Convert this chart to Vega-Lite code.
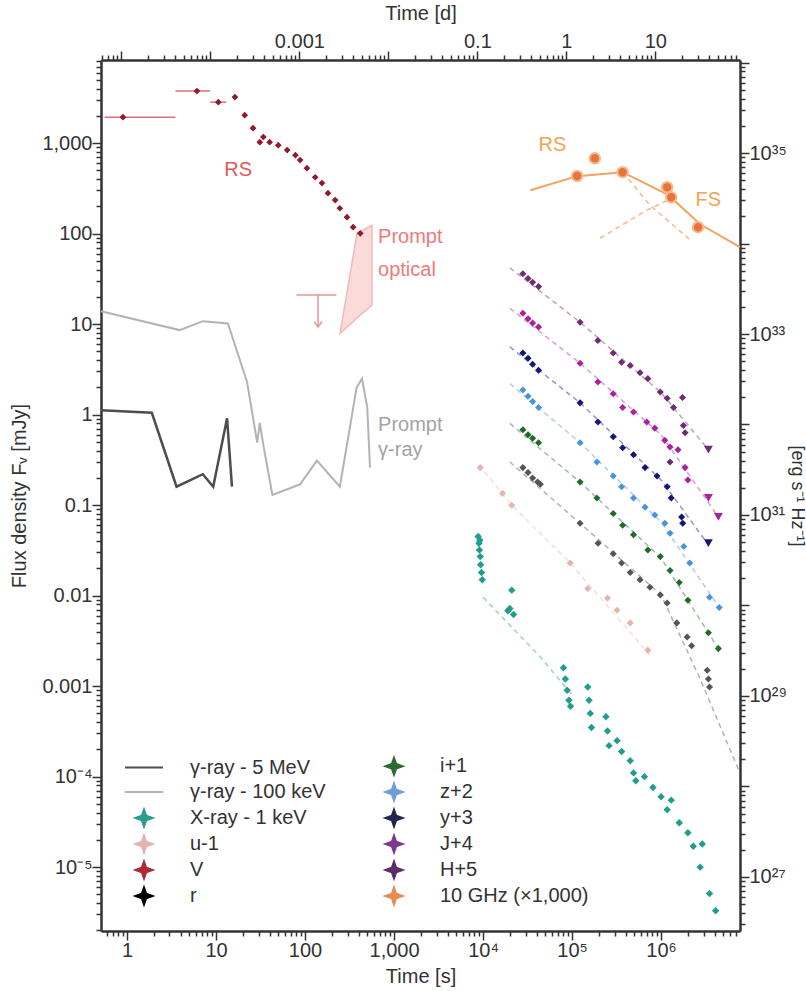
{
  "$schema": "https://vega.github.io/schema/vega-lite/v6.json",
  "width": 639,
  "height": 871,
  "autosize": {"type": "none"},
  "padding": {"left": 101, "top": 60, "right": 66, "bottom": 60},
  "background": "white",
  "config": {
    "font": "Liberation Sans",
    "view": {"stroke": null},
    "axis": {
      "labelFont": "Liberation Sans", "labelFontSize": 20, "labelColor": "#333",
      "titleFont": "Liberation Sans", "titleFontSize": 20, "titleFontWeight": "normal", "titleColor": "#333",
      "domainColor": "#333", "domainWidth": 2.5, "tickColor": "#333", "tickWidth": 1.5, "ticks": true,
      "grid": false, "labelOverlap": false, "labelBound": false, "labelFlush": false
    }
  },
  "datasets": {
    "gamma5": [{"t":0.51,"F":1.12},{"t":1.9,"F":1.05},{"t":3.6,"F":0.16},{"t":7.1,"F":0.22},{"t":9.3,"F":0.16},{"t":13.3,"F":0.91},{"t":15.1,"F":0.16}],
    "gamma100": [{"t":0.51,"F":13.9},{"t":3.9,"F":8.6},{"t":7.1,"F":10.8},{"t":13.6,"F":10.2},{"t":22.3,"F":2.3},{"t":29,"F":0.49},{"t":31,"F":0.81},{"t":34,"F":0.46},{"t":43,"F":0.13},{"t":88,"F":0.17},{"t":136,"F":0.31},{"t":246,"F":0.16},{"t":380,"F":2.0},{"t":436,"F":2.5},{"t":500,"F":1.2},{"t":537,"F":0.26}],
    "optband": [{"t":247,"lo":7.9,"hi":7.9},{"t":304,"lo":9.5,"hi":26},{"t":383,"lo":11.7,"hi":101},{"t":565,"lo":16.2,"hi":124}],
    "optul": [{"t":140,"tlo":80,"thi":225,"F":21,"Flo":9.3}],
    "vband": [{"t":0.9,"F":1940,"tlo":0.56,"thi":3.5},{"t":6.1,"F":3760,"tlo":3.5,"thi":8.6},{"t":10.6,"F":2840,"tlo":8.6,"thi":13},{"t":16.3,"F":3230},{"t":21,"F":2040},{"t":26,"F":1465},{"t":31,"F":1025},{"t":34,"F":1170},{"t":40,"F":1025},{"t":50,"F":950},{"t":63,"F":840},{"t":78,"F":737},{"t":88,"F":650},{"t":105,"F":530},{"t":130,"F":420},{"t":155,"F":362},{"t":181,"F":280},{"t":218,"F":235},{"t":246,"F":191},{"t":296,"F":152},{"t":347,"F":118},{"t":417,"F":101}],
    "radio": [{"t":114000,"F":434},{"t":180000,"F":680},{"t":370000,"F":478},{"t":1170000,"F":326},{"t":1300000,"F":252},{"t":2600000,"F":118}],
    "radiomodel": [
      {"c":"tot","t":34000,"F":302},{"c":"tot","t":114000,"F":432},{"c":"tot","t":370000,"F":478},{"c":"tot","t":1200000,"F":268},{"c":"tot","t":2750000,"F":127},{"c":"tot","t":7700000,"F":71},
      {"c":"fs","t":206000,"F":89},{"c":"fs","t":690000,"F":182},{"c":"fs","t":1200000,"F":234},
      {"c":"rs","t":370000,"F":478},{"c":"rs","t":750000,"F":206},{"c":"rs","t":2100000,"F":86}
    ],
    "xray": [{"t":8800,"F":0.045},{"t":9000,"F":0.038},{"t":9100,"F":0.032},{"t":9300,"F":0.027},{"t":9400,"F":0.022},{"t":9600,"F":0.018},{"t":9800,"F":0.015},{"t":9200,"F":0.041},
      {"t":19000,"F":0.0068},{"t":20000,"F":0.0072},{"t":21000,"F":0.0115},{"t":22000,"F":0.0062},
      {"t":80000,"F":0.0016},{"t":84000,"F":0.0012},{"t":88000,"F":0.0009},{"t":92000,"F":0.0007},{"t":96000,"F":0.0006},
      {"t":150000,"F":0.00098},{"t":155000,"F":0.0007},{"t":160000,"F":0.0005},{"t":165000,"F":0.00035},
      {"t":240000,"F":0.00046},{"t":250000,"F":0.00032},{"t":260000,"F":0.00022},{"t":320000,"F":0.00025},{"t":360000,"F":0.00019},
      {"t":450000,"F":0.00015},{"t":490000,"F":0.00011},{"t":520000,"F":0.00009},
      {"t":650000,"F":0.0001},{"t":810000,"F":0.000076},{"t":1000000,"F":0.00006},{"t":1170000,"F":0.000043},{"t":1300000,"F":0.000055},{"t":1600000,"F":0.000031},{"t":2000000,"F":0.000024},{"t":2300000,"F":0.000017},{"t":2900000,"F":0.000018},{"t":2750000,"F":0.00001},{"t":3500000,"F":0.0000051},{"t":4100000,"F":0.0000033}],
    "multi": [
      {"b":"u","t":9300,"F":0.26},{"b":"u","t":16500,"F":0.135},{"b":"u","t":21000,"F":0.1},{"b":"u","t":95000,"F":0.023},{"b":"u","t":150000,"F":0.012},{"b":"u","t":250000,"F":0.0094},{"b":"u","t":320000,"F":0.0069},{"b":"u","t":450000,"F":0.005},{"b":"u","t":710000,"F":0.0025},
      {"b":"r","t":28000,"F":0.26},{"b":"r","t":32000,"F":0.23},{"b":"r","t":36000,"F":0.2},{"b":"r","t":41000,"F":0.18},{"b":"r","t":44000,"F":0.17},{"b":"r","t":123000,"F":0.063},{"b":"r","t":196000,"F":0.038},{"b":"r","t":290000,"F":0.029},{"b":"r","t":360000,"F":0.023},{"b":"r","t":450000,"F":0.018},{"b":"r","t":580000,"F":0.015},{"b":"r","t":750000,"F":0.0124},{"b":"r","t":980000,"F":0.0102},{"b":"r","t":1170000,"F":0.0083},{"b":"r","t":1500000,"F":0.005},{"b":"r","t":1960000,"F":0.0035},{"b":"r","t":2200000,"F":0.0028},{"b":"r","t":3300000,"F":0.0015},{"b":"r","t":3400000,"F":0.0012},{"b":"r","t":3500000,"F":0.00098},
      {"b":"i","t":28000,"F":0.68},{"b":"i","t":32000,"F":0.6},{"b":"i","t":36000,"F":0.55},{"b":"i","t":42000,"F":0.49},{"b":"i","t":123000,"F":0.18},{"b":"i","t":190000,"F":0.12},{"b":"i","t":290000,"F":0.081},{"b":"i","t":370000,"F":0.06},{"b":"i","t":490000,"F":0.047},{"b":"i","t":710000,"F":0.032},{"b":"i","t":980000,"F":0.027},{"b":"i","t":1260000,"F":0.019},{"b":"i","t":1600000,"F":0.014},{"b":"i","t":2000000,"F":0.0089},{"b":"i","t":3400000,"F":0.0039},{"b":"i","t":4400000,"F":0.0026},
      {"b":"z","t":28000,"F":1.87},{"b":"z","t":32000,"F":1.6},{"b":"z","t":36000,"F":1.4},{"b":"z","t":42000,"F":1.2},{"b":"z","t":123000,"F":0.49},{"b":"z","t":190000,"F":0.3},{"b":"z","t":290000,"F":0.21},{"b":"z","t":360000,"F":0.16},{"b":"z","t":490000,"F":0.12},{"b":"z","t":660000,"F":0.095},{"b":"z","t":850000,"F":0.078},{"b":"z","t":1100000,"F":0.063},{"b":"z","t":1260000,"F":0.049},{"b":"z","t":1800000,"F":0.035},{"b":"z","t":2100000,"F":0.023},{"b":"z","t":3500000,"F":0.0096},{"b":"z","t":4500000,"F":0.0074},
      {"b":"y","t":28000,"F":4.8},{"b":"y","t":32000,"F":4.2},{"b":"y","t":36000,"F":3.6},{"b":"y","t":42000,"F":3.1},{"b":"y","t":123000,"F":1.35},{"b":"y","t":195000,"F":0.83},{"b":"y","t":290000,"F":0.57},{"b":"y","t":370000,"F":0.43},{"b":"y","t":490000,"F":0.36},{"b":"y","t":660000,"F":0.26},{"b":"y","t":900000,"F":0.21},{"b":"y","t":1170000,"F":0.16},{"b":"y","t":1300000,"F":0.12},{"b":"y","t":1700000,"F":0.074},{"b":"y","t":1750000,"F":0.063},
      {"b":"J","t":28000,"F":13.2},{"b":"J","t":32000,"F":11.5},{"b":"J","t":36000,"F":10.3},{"b":"J","t":42000,"F":9.3},{"b":"J","t":123000,"F":3.7},{"b":"J","t":195000,"F":2.3},{"b":"J","t":290000,"F":1.7},{"b":"J","t":370000,"F":1.2},{"b":"J","t":490000,"F":1.07},{"b":"J","t":690000,"F":0.83},{"b":"J","t":850000,"F":0.71},{"b":"J","t":1100000,"F":0.52},{"b":"J","t":1260000,"F":0.44},{"b":"J","t":1550000,"F":0.41},{"b":"J","t":1860000,"F":0.26},{"b":"J","t":2000000,"F":0.19},
      {"b":"H","t":28000,"F":36},{"b":"H","t":32000,"F":32},{"b":"H","t":36000,"F":29},{"b":"H","t":42000,"F":26},{"b":"H","t":123000,"F":10.5},{"b":"H","t":195000,"F":6.6},{"b":"H","t":290000,"F":4.8},{"b":"H","t":360000,"F":3.8},{"b":"H","t":450000,"F":3.5},{"b":"H","t":580000,"F":2.9},{"b":"H","t":710000,"F":2.5},{"b":"H","t":980000,"F":1.78},{"b":"H","t":1170000,"F":1.52},{"b":"H","t":1380000,"F":1.2},{"b":"H","t":1740000,"F":1.55},{"b":"H","t":1780000,"F":0.76},{"b":"H","t":1860000,"F":0.63},{"b":"H","t":1260000,"F":0.3}
    ],
    "limits": [{"b":"y","t":3400000,"F":0.038},{"b":"J","t":3400000,"F":0.12},{"b":"J","t":4400000,"F":0.074},{"b":"H","t":3400000,"F":0.41}],
    "models": [
      {"b":"X","t":10000,"F":0.0096},{"b":"X","t":44000,"F":0.0021},{"b":"X","t":100000,"F":0.0008},
      {"b":"u","t":9000,"F":0.28},{"b":"u","t":21000,"F":0.1},{"b":"u","t":95000,"F":0.023},{"b":"u","t":750000,"F":0.0022},
      {"b":"r","t":20000,"F":0.3},{"b":"r","t":123000,"F":0.063},{"b":"r","t":1000000,"F":0.0102},{"b":"r","t":2750000,"F":0.0012},{"b":"r","t":7400000,"F":0.00012},
      {"b":"i","t":20000,"F":0.8},{"b":"i","t":123000,"F":0.18},{"b":"i","t":1000000,"F":0.026},{"b":"i","t":4400000,"F":0.0026},
      {"b":"z","t":20000,"F":2.2},{"b":"z","t":123000,"F":0.49},{"b":"z","t":1000000,"F":0.065},{"b":"z","t":4500000,"F":0.0074},
      {"b":"y","t":20000,"F":5.6},{"b":"y","t":123000,"F":1.35},{"b":"y","t":1000000,"F":0.19},{"b":"y","t":3300000,"F":0.038},
      {"b":"J","t":20000,"F":15},{"b":"J","t":123000,"F":3.7},{"b":"J","t":1000000,"F":0.6},{"b":"J","t":4400000,"F":0.074},
      {"b":"H","t":20000,"F":42},{"b":"H","t":123000,"F":10.5},{"b":"H","t":1000000,"F":1.75},{"b":"H","t":3400000,"F":0.41}
    ],
    "legend": [{"series":"γ-ray - 5 MeV"},{"series":"γ-ray - 100 keV"},{"series":"X-ray - 1 keV"},{"series":"u-1"},{"series":"V"},{"series":"r"},{"series":"i+1"},{"series":"z+2"},{"series":"y+3"},{"series":"J+4"},{"series":"H+5"},{"series":"10 GHz (×1,000)"}]
  },
  "layer": [
    {
      "layer": [
        {
          "data": {"name": "gamma100"},
          "mark": {"type": "line", "color": "#b3b3b3", "strokeWidth": 2},
          "encoding": {
            "x": {"field": "t", "type": "quantitative", "scale": {"type": "log", "domain": [0.51, 7700000], "nice": false},
              "axis": {"orient": "bottom", "title": "Time  [s]", "titlePadding": 6,
                "values": [0.6,0.7,0.8,0.9,1,2,3,4,5,6,7,8,9,10,20,30,40,50,60,70,80,90,100,200,300,400,500,600,700,800,900,1000,2000,3000,4000,5000,6000,7000,8000,9000,10000,20000,30000,40000,50000,60000,70000,80000,90000,100000,200000,300000,400000,500000,600000,700000,800000,900000,1000000,2000000,3000000,4000000,5000000,6000000,7000000],
                "labelExpr": "abs(log(datum.value)/LN10-round(log(datum.value)/LN10))>0.001 ? '' : datum.value<5000 ? format(datum.value, ',') : datum.value<50000 ? '10⁴' : datum.value<500000 ? '10⁵' : '10⁶'",
                "tickSize": {"condition": {"test": "abs(log(datum.value)/LN10-round(log(datum.value)/LN10))<0.001", "value": 9}, "value": 5},
                "labelPadding": 0}},
            "y": {"field": "F", "type": "quantitative", "scale": {"type": "log", "domain": [0.00000197, 8300], "nice": false},
              "axis": {"orient": "left", "title": "Flux density Fᵥ [mJy]", "titlePadding": 12,
                "values": [0.000002,0.000003,0.000004,0.000005,0.000006,0.000007,0.000008,0.000009,0.00001,0.00002,0.00003,0.00004,0.00005,0.00006,0.00007,0.00008,0.00009,0.0001,0.0002,0.0003,0.0004,0.0005,0.0006,0.0007,0.0008,0.0009,0.001,0.002,0.003,0.004,0.005,0.006,0.007,0.008,0.009,0.01,0.02,0.03,0.04,0.05,0.06,0.07,0.08,0.09,0.1,0.2,0.3,0.4,0.5,0.6,0.7,0.8,0.9,1,2,3,4,5,6,7,8,9,10,20,30,40,50,60,70,80,90,100,200,300,400,500,600,700,800,900,1000,2000,3000,4000,5000,6000,7000,8000],
                "labelExpr": "abs(log(datum.value)/LN10-round(log(datum.value)/LN10))>0.001 ? '' : datum.value>=0.001 ? format(datum.value, ',') : datum.value>0.00005 ? '10⁻⁴' : '10⁻⁵'",
                "tickSize": {"condition": {"test": "abs(log(datum.value)/LN10-round(log(datum.value)/LN10))<0.001", "value": 9}, "value": 5},
                "labelPadding": 0}}
          }
        },
        {
          "data": {"name": "gamma5"},
          "mark": {"type": "line", "color": "#4d4d4d", "strokeWidth": 2.5},
          "encoding": {
            "x": {"field": "t", "type": "quantitative", "scale": {"type": "log", "domain": [0.51, 7700000], "nice": false}},
            "y": {"field": "F", "type": "quantitative", "scale": {"type": "log", "domain": [0.00000197, 8300], "nice": false}}
          }
        },
        {
          "data": {"name": "optband"},
          "mark": {"type": "area", "color": "#f9b6b6", "opacity": 0.5, "stroke": "#e87474", "strokeWidth": 1.5},
          "encoding": {
            "x": {"field": "t", "type": "quantitative", "scale": {"type": "log", "domain": [0.51, 7700000], "nice": false}},
            "y": {"field": "lo", "type": "quantitative", "scale": {"type": "log", "domain": [0.00000197, 8300], "nice": false}},
            "y2": {"field": "hi"}
          }
        },
        {
          "data": {"name": "optul"},
          "mark": {"type": "rule", "color": "#e89494", "strokeWidth": 1.5},
          "encoding": {
            "x": {"field": "tlo", "type": "quantitative", "scale": {"type": "log", "domain": [0.51, 7700000], "nice": false}},
            "x2": {"field": "thi"},
            "y": {"field": "F", "type": "quantitative", "scale": {"type": "log", "domain": [0.00000197, 8300], "nice": false}}
          }
        },
        {
          "data": {"name": "optul"},
          "mark": {"type": "rule", "color": "#e89494", "strokeWidth": 1.5},
          "encoding": {
            "x": {"field": "t", "type": "quantitative", "scale": {"type": "log", "domain": [0.51, 7700000], "nice": false}},
            "y": {"field": "F", "type": "quantitative", "scale": {"type": "log", "domain": [0.00000197, 8300], "nice": false}},
            "y2": {"field": "Flo"}
          }
        },
        {
          "data": {"name": "optul"},
          "mark": {"type": "point", "shape": "M-1,-1.4L0,0L1,-1.4", "filled": false, "size": 60, "color": "#e89494", "strokeWidth": 1.5, "opacity": 1},
          "encoding": {
            "x": {"field": "t", "type": "quantitative", "scale": {"type": "log", "domain": [0.51, 7700000], "nice": false}},
            "y": {"field": "Flo", "type": "quantitative", "scale": {"type": "log", "domain": [0.00000197, 8300], "nice": false}}
          }
        },
        {
          "data": {"name": "vband"},
          "mark": {"type": "rule", "color": "#d9707a", "strokeWidth": 1.5},
          "encoding": {
            "x": {"field": "tlo", "type": "quantitative", "scale": {"type": "log", "domain": [0.51, 7700000], "nice": false}},
            "x2": {"field": "thi"},
            "y": {"field": "F", "type": "quantitative", "scale": {"type": "log", "domain": [0.00000197, 8300], "nice": false}}
          }
        },
        {
          "data": {"name": "vband"},
          "mark": {"type": "point", "shape": "diamond", "filled": true, "size": 45, "color": "#8e1a2c", "opacity": 1},
          "encoding": {
            "x": {"field": "t", "type": "quantitative", "scale": {"type": "log", "domain": [0.51, 7700000], "nice": false}},
            "y": {"field": "F", "type": "quantitative", "scale": {"type": "log", "domain": [0.00000197, 8300], "nice": false}}
          }
        },
        {
          "data": {"name": "radiomodel"},
          "transform": [{"filter": "datum.c == 'tot'"}],
          "mark": {"type": "line", "color": "#f2a35e", "strokeWidth": 2},
          "encoding": {
            "x": {"field": "t", "type": "quantitative", "scale": {"type": "log", "domain": [0.51, 7700000], "nice": false}},
            "y": {"field": "F", "type": "quantitative", "scale": {"type": "log", "domain": [0.00000197, 8300], "nice": false}}
          }
        },
        {
          "data": {"name": "radiomodel"},
          "transform": [{"filter": "datum.c != 'tot'"}],
          "mark": {"type": "line", "color": "#f2b98a", "strokeWidth": 1.5, "strokeDash": [5, 4]},
          "encoding": {
            "x": {"field": "t", "type": "quantitative", "scale": {"type": "log", "domain": [0.51, 7700000], "nice": false}},
            "y": {"field": "F", "type": "quantitative", "scale": {"type": "log", "domain": [0.00000197, 8300], "nice": false}},
            "detail": {"field": "c"}
          }
        },
        {
          "data": {"name": "models"},
          "mark": {"type": "line", "strokeWidth": 1.5, "strokeDash": [5, 4], "opacity": 0.45},
          "encoding": {
            "x": {"field": "t", "type": "quantitative", "scale": {"type": "log", "domain": [0.51, 7700000], "nice": false}},
            "y": {"field": "F", "type": "quantitative", "scale": {"type": "log", "domain": [0.00000197, 8300], "nice": false}},
            "color": {"field": "b", "type": "nominal", "legend": null,
              "scale": {"domain": ["u","r","i","z","y","J","H","X"], "range": ["#e6b4ae","#555555","#1f6b2a","#4a94dc","#16167a","#a8229f","#6e2d73","#1f9e8e"]}}
          }
        },
        {
          "data": {"name": "xray"},
          "mark": {"type": "point", "shape": "diamond", "filled": true, "size": 55, "color": "#1f9e8e", "opacity": 1},
          "encoding": {
            "x": {"field": "t", "type": "quantitative", "scale": {"type": "log", "domain": [0.51, 7700000], "nice": false}},
            "y": {"field": "F", "type": "quantitative", "scale": {"type": "log", "domain": [0.00000197, 8300], "nice": false}}
          }
        },
        {
          "data": {"name": "multi"},
          "mark": {"type": "point", "shape": "diamond", "filled": true, "size": 50, "opacity": 1},
          "encoding": {
            "x": {"field": "t", "type": "quantitative", "scale": {"type": "log", "domain": [0.51, 7700000], "nice": false}},
            "y": {"field": "F", "type": "quantitative", "scale": {"type": "log", "domain": [0.00000197, 8300], "nice": false}},
            "color": {"field": "b", "type": "nominal", "legend": null,
              "scale": {"domain": ["u","r","i","z","y","J","H","X"], "range": ["#e6b4ae","#000000","#1f6b2a","#4a94dc","#16167a","#a8229f","#6e2d73","#1f9e8e"]}}
          }
        },
        {
          "data": {"name": "limits"},
          "mark": {"type": "point", "shape": "triangle-down", "filled": true, "size": 80, "opacity": 1},
          "encoding": {
            "x": {"field": "t", "type": "quantitative", "scale": {"type": "log", "domain": [0.51, 7700000], "nice": false}},
            "y": {"field": "F", "type": "quantitative", "scale": {"type": "log", "domain": [0.00000197, 8300], "nice": false}},
            "color": {"field": "b", "type": "nominal", "legend": null,
              "scale": {"domain": ["u","r","i","z","y","J","H","X"], "range": ["#e6b4ae","#000000","#1f6b2a","#4a94dc","#16167a","#a8229f","#6e2d73","#1f9e8e"]}}
          }
        },
        {
          "data": {"name": "radio"},
          "mark": {"type": "point", "shape": "circle", "filled": true, "size": 110, "color": "#e8743b", "stroke": "#f7b98f", "strokeWidth": 2, "opacity": 1},
          "encoding": {
            "x": {"field": "t", "type": "quantitative", "scale": {"type": "log", "domain": [0.51, 7700000], "nice": false}},
            "y": {"field": "F", "type": "quantitative", "scale": {"type": "log", "domain": [0.00000197, 8300], "nice": false}}
          }
        },
        {
          "data": {"values": [{"t": 17.7, "F": 500, "txt": "RS"}]},
          "mark": {"type": "text", "color": "#e05a5a", "fontSize": 20, "align": "center", "baseline": "middle"},
          "encoding": {
            "x": {"field": "t", "type": "quantitative", "scale": {"type": "log", "domain": [0.51, 7700000], "nice": false}},
            "y": {"field": "F", "type": "quantitative", "scale": {"type": "log", "domain": [0.00000197, 8300], "nice": false}},
            "text": {"field": "txt"}
          }
        },
        {
          "data": {"values": [{"t": 661, "F": 91, "txt": "Prompt"}, {"t": 661, "F": 40, "txt": "optical"}]},
          "mark": {"type": "text", "color": "#f07a7a", "fontSize": 20, "align": "left", "baseline": "middle"},
          "encoding": {
            "x": {"field": "t", "type": "quantitative", "scale": {"type": "log", "domain": [0.51, 7700000], "nice": false}},
            "y": {"field": "F", "type": "quantitative", "scale": {"type": "log", "domain": [0.00000197, 8300], "nice": false}},
            "text": {"field": "txt"}
          }
        },
        {
          "data": {"values": [{"t": 661, "F": 0.77, "txt": "Prompt"}, {"t": 661, "F": 0.41, "txt": "γ-ray"}]},
          "mark": {"type": "text", "color": "#a3a3a3", "fontSize": 20, "align": "left", "baseline": "middle"},
          "encoding": {
            "x": {"field": "t", "type": "quantitative", "scale": {"type": "log", "domain": [0.51, 7700000], "nice": false}},
            "y": {"field": "F", "type": "quantitative", "scale": {"type": "log", "domain": [0.00000197, 8300], "nice": false}},
            "text": {"field": "txt"}
          }
        },
        {
          "data": {"values": [{"t": 60000, "F": 950, "txt": "RS"}, {"t": 3400000, "F": 234, "txt": "FS"}]},
          "mark": {"type": "text", "color": "#f0a552", "fontSize": 20, "align": "center", "baseline": "middle"},
          "encoding": {
            "x": {"field": "t", "type": "quantitative", "scale": {"type": "log", "domain": [0.51, 7700000], "nice": false}},
            "y": {"field": "F", "type": "quantitative", "scale": {"type": "log", "domain": [0.00000197, 8300], "nice": false}},
            "text": {"field": "txt"}
          }
        },
        {
          "data": {"name": "legend"},
          "mark": {"type": "point", "filled": true, "clip": true, "strokeWidth": 2, "opacity": 1},
          "encoding": {
            "x": {"datum": 0.01, "type": "quantitative", "scale": {"type": "log", "domain": [0.51, 7700000], "nice": false}},
            "y": {"datum": 1, "type": "quantitative", "scale": {"type": "log", "domain": [0.00000197, 8300], "nice": false}},
            "fill": {"field": "series", "type": "nominal",
              "scale": {"domain": ["γ-ray - 5 MeV","γ-ray - 100 keV","X-ray - 1 keV","u-1","V","r","i+1","z+2","y+3","J+4","H+5","10 GHz (×1,000)"],
                        "range": ["#4d4d4d","#b3b3b3","#2a9d8f","#e3b3b0","#b0283c","#000000","#2e6b30","#6f9fd8","#25254f","#7d3a8c","#5e2d6e","#ea8a55"]},
              "legend": {"orient": "none", "legendX": 32, "legendY": 695, "columns": 2, "columnPadding": 55, "rowPadding": 0,
                "symbolSize": 400, "labelFontSize": 20, "labelFont": "Liberation Sans", "labelColor": "#333", "labelOffset": 35,
                "symbolStrokeWidth": 2, "title": null, "labelLimit": 400, "padding": 0, "symbolOpacity": 1}},
            "stroke": {"field": "series", "type": "nominal",
              "scale": {"domain": ["γ-ray - 5 MeV","γ-ray - 100 keV","X-ray - 1 keV","u-1","V","r","i+1","z+2","y+3","J+4","H+5","10 GHz (×1,000)"],
                        "range": ["#4d4d4d","#b3b3b3","#2a9d8f","#e3b3b0","#b0283c","#000000","#2e6b30","#6f9fd8","#25254f","#7d3a8c","#5e2d6e","#ea8a55"]}},
            "shape": {"field": "series", "type": "nominal",
              "scale": {"domain": ["γ-ray - 5 MeV","γ-ray - 100 keV","X-ray - 1 keV","u-1","V","r","i+1","z+2","y+3","J+4","H+5","10 GHz (×1,000)"],
                        "range": ["M-1.9,0L1.9,0","M-1.9,0L1.9,0","M0,-0.85L0.22,-0.22L0.85,0L0.22,0.22L0,0.85L-0.22,0.22L-0.85,0L-0.22,-0.22Z","M0,-0.85L0.22,-0.22L0.85,0L0.22,0.22L0,0.85L-0.22,0.22L-0.85,0L-0.22,-0.22Z","M0,-0.85L0.22,-0.22L0.85,0L0.22,0.22L0,0.85L-0.22,0.22L-0.85,0L-0.22,-0.22Z","M0,-0.85L0.22,-0.22L0.85,0L0.22,0.22L0,0.85L-0.22,0.22L-0.85,0L-0.22,-0.22Z","M0,-0.85L0.22,-0.22L0.85,0L0.22,0.22L0,0.85L-0.22,0.22L-0.85,0L-0.22,-0.22Z","M0,-0.85L0.22,-0.22L0.85,0L0.22,0.22L0,0.85L-0.22,0.22L-0.85,0L-0.22,-0.22Z","M0,-0.85L0.22,-0.22L0.85,0L0.22,0.22L0,0.85L-0.22,0.22L-0.85,0L-0.22,-0.22Z","M0,-0.85L0.22,-0.22L0.85,0L0.22,0.22L0,0.85L-0.22,0.22L-0.85,0L-0.22,-0.22Z","M0,-0.85L0.22,-0.22L0.85,0L0.22,0.22L0,0.85L-0.22,0.22L-0.85,0L-0.22,-0.22Z","M0,-0.85L0.22,-0.22L0.85,0L0.22,0.22L0,0.85L-0.22,0.22L-0.85,0L-0.22,-0.22Z"]}}
          }
        }
      ]
    },
    {
      "data": {"values": [{"d": 0.0000059, "F": 1}, {"d": 89.4, "F": 1}]},
      "mark": {"type": "point", "opacity": 0},
      "encoding": {
        "x": {"field": "d", "type": "quantitative", "scale": {"type": "log", "domain": [0.0000059, 89.4], "nice": false},
          "axis": {"orient": "top", "title": "Time [d]", "titlePadding": 8,
            "values": [0.000006,0.000007,0.000008,0.000009,0.00001,0.00002,0.00003,0.00004,0.00005,0.00006,0.00007,0.00008,0.00009,0.0001,0.0002,0.0003,0.0004,0.0005,0.0006,0.0007,0.0008,0.0009,0.001,0.002,0.003,0.004,0.005,0.006,0.007,0.008,0.009,0.01,0.02,0.03,0.04,0.05,0.06,0.07,0.08,0.09,0.1,0.2,0.3,0.4,0.5,0.6,0.7,0.8,0.9,1,2,3,4,5,6,7,8,9,10,20,30,40,50,60,70,80],
            "labelExpr": "datum.value==0.001?'0.001':datum.value==0.1?'0.1':datum.value==1?'1':datum.value==10?'10':''",
            "tickSize": {"condition": {"test": "abs(log(datum.value)/LN10-round(log(datum.value)/LN10))<0.001", "value": 9}, "value": 5},
            "labelPadding": 0}},
        "y": {"field": "F", "type": "quantitative", "scale": {"type": "log", "domain": [0.00000197, 8300], "nice": false}, "axis": null}
      }
    },
    {
      "data": {"values": [{"L": 2.53e26, "t": 1}, {"L": 1.066e36, "t": 1}]},
      "mark": {"type": "point", "opacity": 0},
      "encoding": {
        "x": {"field": "t", "type": "quantitative", "scale": {"type": "log", "domain": [0.51, 7700000], "nice": false}, "axis": null},
        "y": {"field": "L", "type": "quantitative", "scale": {"type": "log", "domain": [2.53e26, 1.066e36], "nice": false},
          "axis": {"orient": "right", "title": "[erg s⁻¹ Hz⁻¹]", "titlePadding": 1, "titleFontSize": 18,
            "values": [3e26,4e26,5e26,6e26,7e26,8e26,9e26,1e27,2e27,3e27,4e27,5e27,6e27,7e27,8e27,9e27,1e28,2e28,3e28,4e28,5e28,6e28,7e28,8e28,9e28,1e29,2e29,3e29,4e29,5e29,6e29,7e29,8e29,9e29,1e30,2e30,3e30,4e30,5e30,6e30,7e30,8e30,9e30,1e31,2e31,3e31,4e31,5e31,6e31,7e31,8e31,9e31,1e32,2e32,3e32,4e32,5e32,6e32,7e32,8e32,9e32,1e33,2e33,3e33,4e33,5e33,6e33,7e33,8e33,9e33,1e34,2e34,3e34,4e34,5e34,6e34,7e34,8e34,9e34,1e35,2e35,3e35,4e35,5e35,6e35,7e35,8e35,9e35,1e36],
            "labelExpr": "datum.value==1e27?'10²⁷':datum.value==1e29?'10²⁹':datum.value==1e31?'10³¹':datum.value==1e33?'10³³':datum.value==1e35?'10³⁵':''",
            "tickSize": {"condition": {"test": "abs(log(datum.value)/LN10-round(log(datum.value)/LN10))<0.001", "value": 9}, "value": 5},
            "labelPadding": 0}}
      }
    }
  ],
  "resolve": {"scale": {"x": "independent", "y": "independent"}}
}
